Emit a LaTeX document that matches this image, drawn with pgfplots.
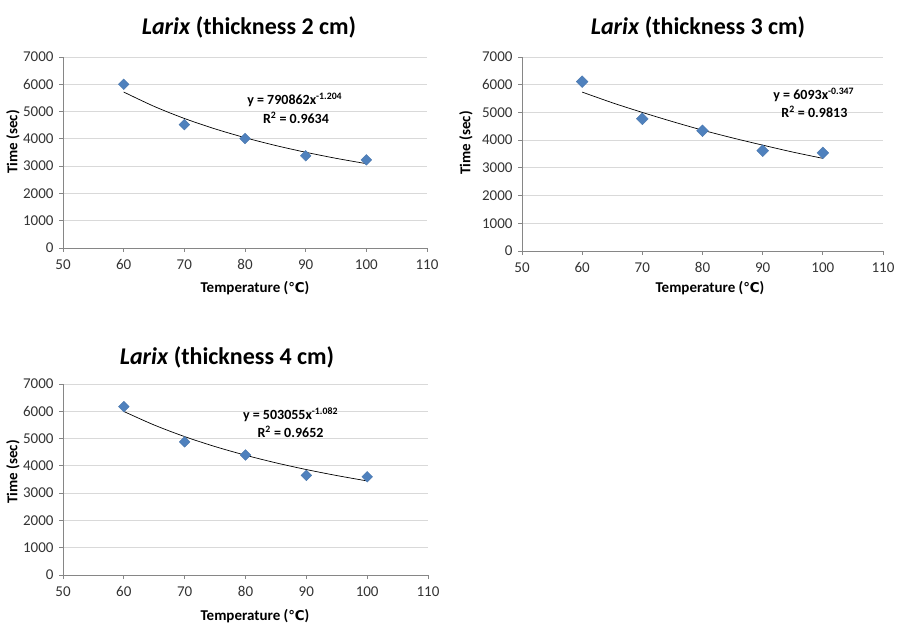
\documentclass[border=0pt]{standalone}
\usepackage{fontspec}
\setmainfont{Carlito}
\newfontfamily\dejavu{DejaVu Sans}
\usepackage{pgfplots}
\pgfplotsset{compat=1.18}
\definecolor{mk}{HTML}{4F81BD}
\definecolor{gridc}{HTML}{D9D9D9}
\definecolor{axc}{HTML}{868686}
\newcommand{\degC}{{\dejavu\fontsize{13.5}{15}\selectfont ℃}}
\tikzset{
  ann/.style={font=\bfseries\fontsize{14}{16}\selectfont},
  lab/.style={font=\bfseries\fontsize{15}{17}\selectfont},
  ttl/.style={font=\bfseries\fontsize{24}{27}\selectfont},
}
\pgfplotsset{
  excel/.style={
    scale only axis,
    axis lines=left,
    axis line style={-,draw=axc,line width=0.8pt},
    xmin=50,xmax=110,ymin=0,ymax=7000,
    xtick={50,60,...,110},
    ytick={0,1000,...,7000},
    ymajorgrids,
    major grid style={draw=gridc,line width=0.8pt},
    tick style={draw=axc,line width=0.8pt},
    tick align=outside,
    major tick length=4pt,
    scaled ticks=false,
    /pgf/number format/1000 sep={},
    /pgf/number format/assume math mode=true,
    ticklabel style={font=\fontsize{15}{17}\selectfont,text=black!80},
    xticklabel style={yshift=-4pt},
    yticklabel style={xshift=-2pt},
    clip=false,
  },
  pts/.style={only marks,mark=square*,mark size=3.8pt,
    mark options={rotate=45,fill=mk,draw=mk!90!black,line width=0.3pt}},
  trend/.style={black,line width=0.7pt,smooth,no marks},
}
\begin{document}
\begin{tikzpicture}[x=1pt,y=1pt]
\path[use as bounding box] (0,0) rectangle (909,635);
% ---------- panel 1 ----------
\begin{axis}[excel,at={(63pt,387pt)},anchor=south west,width=364pt,height=191pt]
\addplot[trend] coordinates {(60,5717) (65,5192) (70,4748) (75,4370) (80,4044) (85,3759) (90,3509) (95,3287) (100,3091)};
\addplot[pts] coordinates {(60,6000) (70,4520) (80,4010) (90,3380) (100,3230)};
\node[ann] at (axis cs:88.2,5424) {y = 790862x\textsuperscript{-1.204}};
\node[ann] at (axis cs:88.4,4764) {R\textsuperscript{2} = 0.9634};
\end{axis}
\node[ttl] at (249,608) {\textit{Larix} (thickness 2 cm)};
\node[lab] at (255,347) {Temperature (\degC)};
\node[lab,rotate=90] at (13,493) {Time (sec)};
% ---------- panel 2 ----------
\begin{axis}[excel,at={(522pt,384pt)},anchor=south west,width=361pt,height=194pt]
\addplot[trend] coordinates {(60,5734) (65,5350) (70,5000) (75,4670) (80,4360) (85,4080) (90,3820) (95,3570) (100,3343)};
\addplot[pts,mark size=4.2pt] coordinates {(60,6110) (70,4770) (80,4340) (90,3620) (100,3540)};
\node[ann] at (axis cs:98.5,5629) {y = 6093x\textsuperscript{-0.347}};
\node[ann] at (axis cs:98.6,5015) {R\textsuperscript{2} = 0.9813};
\end{axis}
\node[ttl] at (698,608) {\textit{Larix} (thickness 3 cm)};
\node[lab] at (710,347) {Temperature (\degC)};
\node[lab,rotate=90] at (466,492) {Time (sec)};
% ---------- panel 3 ----------
\begin{axis}[excel,at={(63pt,60pt)},anchor=south west,width=365pt,height=191pt]
\addplot[trend] coordinates {(60,5993) (65,5496) (70,5072) (75,4707) (80,4390) (85,4111) (90,3865) (95,3645) (100,3448)};
\addplot[pts] coordinates {(60,6170) (70,4880) (80,4400) (90,3650) (100,3600)};
\node[ann] at (axis cs:87.4,5864) {y = 503055x\textsuperscript{-1.082}};
\node[ann] at (axis cs:87.4,5241) {R\textsuperscript{2} = 0.9652};
\end{axis}
\node[ttl] at (227,278) {\textit{Larix} (thickness 4 cm)};
\node[lab] at (255,19) {Temperature (\degC)};
\node[lab,rotate=90] at (13,163) {Time (sec)};
\end{tikzpicture}
\end{document}
